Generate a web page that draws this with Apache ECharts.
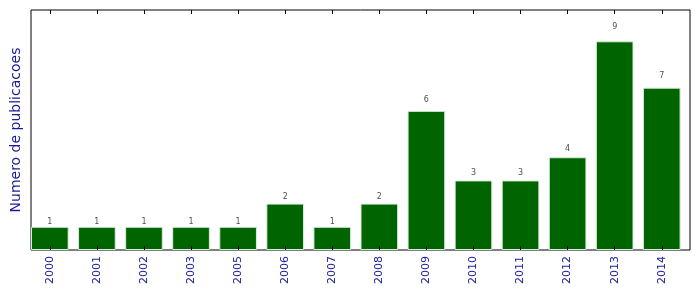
<!DOCTYPE html>
<html>
<head>
<meta charset="utf-8">
<script src="https://cdn.jsdelivr.net/npm/echarts@6/dist/echarts.min.js"></script>
<style>html,body{margin:0;padding:0;background:#fff}#c{width:699px;height:292px}</style>
</head>
<body>
<div id="c"></div>
<script>
const years = ['2000','2001','2002','2003','2005','2006','2007','2008','2009','2010','2011','2012','2013','2014'];
const counts = [1,1,1,1,1,2,1,2,6,3,3,4,9,7];
const yLabel = 'Numero de publicacoes';

// frame grid spans x 31..690; bars occupy [i, i+0.8] of each unit slot,
// so the data grid is shifted left by 0.1 slot so that slot centres land on i+0.4
const frameLeft = 31, frameRight = 9;
const slot = (699 - frameLeft - frameRight) / years.length;
const shift = slot * 0.1;
const tickStyle = { show: true, inside: true, length: 4, alignWithLabel: true, lineStyle: { color: '#000', width: 1 } };

const chart = echarts.init(document.getElementById('c'));
chart.setOption({
  animation: false,
  grid: [
    { left: frameLeft, right: frameRight, top: 10, bottom: 42, show: true, borderColor: '#000', borderWidth: 1, backgroundColor: 'transparent' },
    { left: frameLeft - shift, right: frameRight + shift, top: 10, bottom: 42 }
  ],
  xAxis: [
    { gridIndex: 0, type: 'value', min: 0, max: 1, show: false },
    { gridIndex: 1, type: 'category', data: years, position: 'bottom', z: 10,
      axisLine: { show: true, lineStyle: { color: 'transparent' } }, splitLine: { show: false },
      axisTick: tickStyle,
      axisLabel: { interval: 0, rotate: 90, margin: 6, color: '#2020a0', fontSize: 11, fontFamily: 'DejaVu Sans' } },
    { gridIndex: 1, type: 'category', data: years, position: 'top', z: 10,
      axisLine: { show: true, lineStyle: { color: 'transparent' } }, splitLine: { show: false },
      axisTick: tickStyle, axisLabel: { show: false } }
  ],
  yAxis: [
    { gridIndex: 0, type: 'value', min: 0, max: 1,
      axisLine: { show: false }, axisTick: { show: false }, axisLabel: { show: false }, splitLine: { show: false },
      name: yLabel, nameLocation: 'middle', nameGap: 8,
      nameTextStyle: { color: '#1a1a9a', fontSize: 14, fontFamily: 'DejaVu Sans' } },
    { gridIndex: 1, type: 'value', min: 0, max: 10.35, show: false }
  ],
  series: [{
    type: 'bar', xAxisIndex: 1, yAxisIndex: 1,
    data: counts,
    barWidth: '80%',
    itemStyle: { color: '#006400', borderColor: '#d8ecd8', borderWidth: 1 }
  }, {
    type: 'scatter', xAxisIndex: 1, yAxisIndex: 1, symbolSize: 0, silent: true,
    data: counts.map(v => v * 1.05),
    label: { show: true, position: 'top', distance: 0, fontSize: 8, color: '#222', fontFamily: 'DejaVu Sans',
      formatter: p => String(counts[p.dataIndex]) }
  }]
});
</script>
</body>
</html>
